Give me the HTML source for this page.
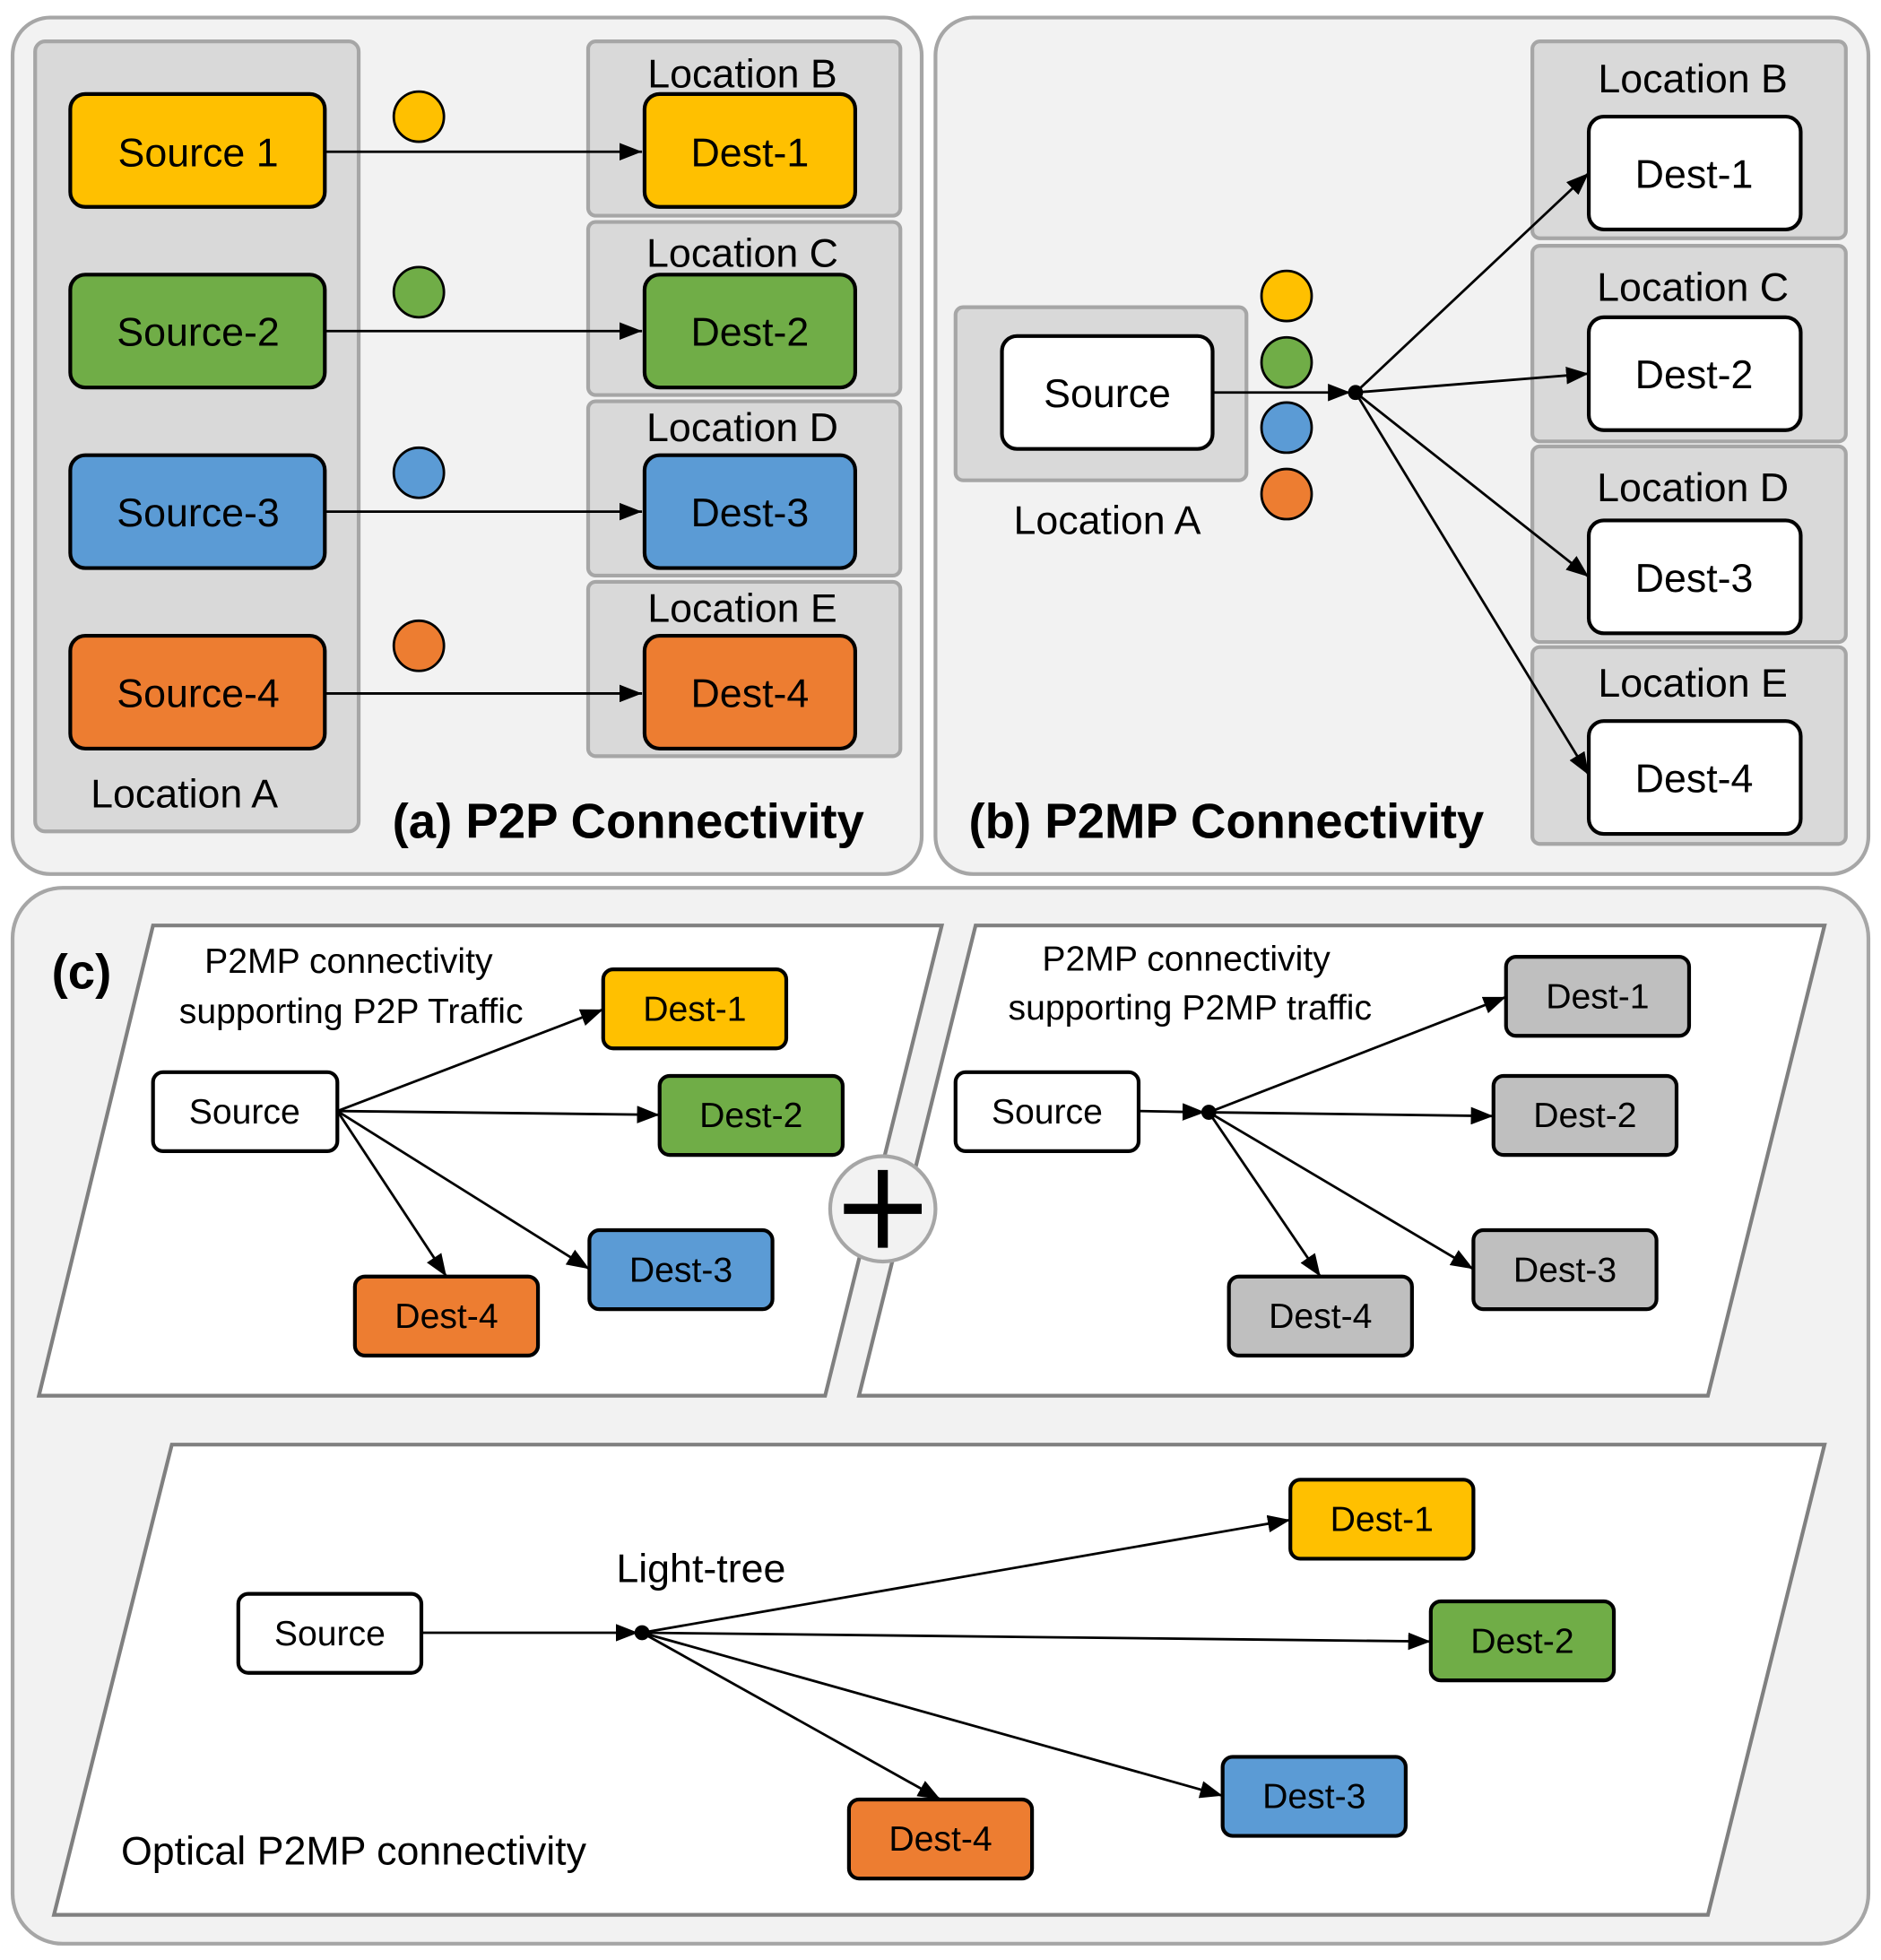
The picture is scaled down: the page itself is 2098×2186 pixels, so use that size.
<!DOCTYPE html>
<html><head><meta charset="utf-8"><style>
html,body{margin:0;padding:0;background:#fff}
svg{display:block}
text{font-family:"Liberation Sans",sans-serif;text-anchor:middle;dominant-baseline:central;fill:#000}
</style></head><body>
<svg width="2098" height="2186" viewBox="0 0 1500 1563" xmlns="http://www.w3.org/2000/svg">
<defs>
<marker id="ar" markerWidth="10" markerHeight="8" refX="10" refY="4" orient="auto" markerUnits="userSpaceOnUse" viewBox="0 0 10 8">
<path d="M0,0 L10,4 L0,8 z" fill="#000"/></marker>
<marker id="arb" markerWidth="18" markerHeight="14" refX="18" refY="7" orient="auto" markerUnits="userSpaceOnUse" viewBox="0 0 18 14">
<path d="M0,0 L18,7 L0,14 z" fill="#000"/></marker>
</defs>
<g stroke-width="2" stroke="#000" fill="none">
<!-- Panel a -->
<rect x="10" y="14" width="725" height="683" rx="30" fill="#f2f2f2" stroke="#a6a6a6" stroke-width="3"/>
<rect x="28" y="33" width="258" height="630" rx="8" fill="#d9d9d9" stroke="#a6a6a6" stroke-width="3"/>
<rect x="469" y="33" width="249" height="139" rx="6" fill="#d9d9d9" stroke="#a6a6a6" stroke-width="3"/>
<rect x="469" y="177" width="249" height="138" rx="6" fill="#d9d9d9" stroke="#a6a6a6" stroke-width="3"/>
<rect x="469" y="320" width="249" height="139" rx="6" fill="#d9d9d9" stroke="#a6a6a6" stroke-width="3"/>
<rect x="469" y="464" width="249" height="139" rx="6" fill="#d9d9d9" stroke="#a6a6a6" stroke-width="3"/>
<g stroke-width="3">
<rect x="56" y="75" width="203" height="90" rx="12" fill="#ffc000"/>
<rect x="56" y="219" width="203" height="90" rx="12" fill="#70ad47"/>
<rect x="56" y="363" width="203" height="90" rx="12" fill="#5b9bd5"/>
<rect x="56" y="507" width="203" height="90" rx="12" fill="#ed7d31"/>
<rect x="514" y="75" width="168" height="90" rx="12" fill="#ffc000"/>
<rect x="514" y="219" width="168" height="90" rx="12" fill="#70ad47"/>
<rect x="514" y="363" width="168" height="90" rx="12" fill="#5b9bd5"/>
<rect x="514" y="507" width="168" height="90" rx="12" fill="#ed7d31"/>
</g>
<circle cx="334" cy="93" r="20" fill="#ffc000"/>
<circle cx="334" cy="233" r="20" fill="#70ad47"/>
<circle cx="334" cy="377" r="20" fill="#5b9bd5"/>
<circle cx="334" cy="515" r="20" fill="#ed7d31"/>
<line x1="259" y1="121" x2="512" y2="121" marker-end="url(#arb)"/>
<line x1="259" y1="264" x2="512" y2="264" marker-end="url(#arb)"/>
<line x1="259" y1="408" x2="512" y2="408" marker-end="url(#arb)"/>
<line x1="259" y1="553" x2="512" y2="553" marker-end="url(#arb)"/>

<!-- Panel b -->
<rect x="746" y="14" width="744" height="683" rx="30" fill="#f2f2f2" stroke="#a6a6a6" stroke-width="3"/>
<rect x="762" y="245" width="232" height="138" rx="6" fill="#d9d9d9" stroke="#a6a6a6" stroke-width="3"/>
<rect x="1222" y="33" width="250" height="157" rx="6" fill="#d9d9d9" stroke="#a6a6a6" stroke-width="3"/>
<rect x="1222" y="196" width="250" height="156" rx="6" fill="#d9d9d9" stroke="#a6a6a6" stroke-width="3"/>
<rect x="1222" y="356" width="250" height="156" rx="6" fill="#d9d9d9" stroke="#a6a6a6" stroke-width="3"/>
<rect x="1222" y="516" width="250" height="157" rx="6" fill="#d9d9d9" stroke="#a6a6a6" stroke-width="3"/>
<g stroke-width="3" fill="#fff">
<rect x="799" y="268" width="168" height="90" rx="12"/>
<rect x="1267" y="93" width="169" height="90" rx="12"/>
<rect x="1267" y="253" width="169" height="90" rx="12"/>
<rect x="1267" y="415" width="169" height="90" rx="12"/>
<rect x="1267" y="575" width="169" height="90" rx="12"/>
</g>
<circle cx="1026" cy="236" r="20" fill="#ffc000"/>
<circle cx="1026" cy="289" r="20" fill="#70ad47"/>
<circle cx="1026" cy="341" r="20" fill="#5b9bd5"/>
<circle cx="1026" cy="394" r="20" fill="#ed7d31"/>
<line x1="967" y1="313" x2="1077" y2="313" marker-end="url(#arb)"/>
<circle cx="1081" cy="313" r="5" fill="#000"/>
<line x1="1081" y1="313" x2="1267" y2="138" marker-end="url(#arb)"/>
<line x1="1081" y1="313" x2="1267" y2="298" marker-end="url(#arb)"/>
<line x1="1081" y1="313" x2="1267" y2="460" marker-end="url(#arb)"/>
<line x1="1081" y1="313" x2="1267" y2="618" marker-end="url(#arb)"/>

<!-- Panel c -->
<rect x="10" y="708" width="1480" height="842" rx="40" fill="#f2f2f2" stroke="#a6a6a6" stroke-width="3"/>
<polygon points="122,738 751,738 658,1113 31,1113" fill="#fff" stroke="#808080" stroke-width="3"/>
<polygon points="778,738 1455,738 1362,1113 685,1113" fill="#fff" stroke="#808080" stroke-width="3"/>
<polygon points="137,1152 1455,1152 1362,1527 43,1527" fill="#fff" stroke="#808080" stroke-width="3"/>
<circle cx="704" cy="964" r="42" fill="#f2f2f2" stroke="#a6a6a6" stroke-width="3"/>
<line x1="673" y1="964" x2="735" y2="964" stroke-width="8"/>
<line x1="704" y1="933" x2="704" y2="995" stroke-width="8"/>
<g stroke-width="3">
<rect x="122" y="855" width="147" height="63" rx="8" fill="#fff"/>
<rect x="481" y="773" width="146" height="63" rx="8" fill="#ffc000"/>
<rect x="526" y="858" width="146" height="63" rx="8" fill="#70ad47"/>
<rect x="470" y="981" width="146" height="63" rx="8" fill="#5b9bd5"/>
<rect x="283" y="1018" width="146" height="63" rx="8" fill="#ed7d31"/>
<rect x="762" y="855" width="146" height="63" rx="8" fill="#fff"/>
<rect x="1201" y="763" width="146" height="63" rx="8" fill="#bfbfbf"/>
<rect x="1191" y="858" width="146" height="63" rx="8" fill="#bfbfbf"/>
<rect x="1175" y="981" width="146" height="63" rx="8" fill="#bfbfbf"/>
<rect x="980" y="1018" width="146" height="63" rx="8" fill="#bfbfbf"/>
<rect x="190" y="1271" width="146" height="63" rx="8" fill="#fff"/>
<rect x="1029" y="1180" width="146" height="63" rx="8" fill="#ffc000"/>
<rect x="1141" y="1277" width="146" height="63" rx="8" fill="#70ad47"/>
<rect x="975" y="1401" width="146" height="63" rx="8" fill="#5b9bd5"/>
<rect x="677" y="1435" width="146" height="63" rx="8" fill="#ed7d31"/>
</g>
<line x1="269" y1="886" x2="481" y2="805" marker-end="url(#arb)"/>
<line x1="269" y1="886" x2="526" y2="889" marker-end="url(#arb)"/>
<line x1="269" y1="886" x2="470" y2="1012" marker-end="url(#arb)"/>
<line x1="269" y1="886" x2="356" y2="1018" marker-end="url(#arb)"/>
<line x1="908" y1="886" x2="961" y2="887" marker-end="url(#arb)"/>
<circle cx="964" cy="887" r="5" fill="#000"/>
<line x1="964" y1="887" x2="1201" y2="795" marker-end="url(#arb)"/>
<line x1="964" y1="887" x2="1191" y2="890" marker-end="url(#arb)"/>
<line x1="964" y1="887" x2="1175" y2="1012" marker-end="url(#arb)"/>
<line x1="964" y1="887" x2="1053" y2="1018" marker-end="url(#arb)"/>
<line x1="336" y1="1302" x2="509" y2="1302" marker-end="url(#arb)"/>
<circle cx="512" cy="1302" r="5" fill="#000"/>
<line x1="512" y1="1302" x2="1029" y2="1212" marker-end="url(#arb)"/>
<line x1="512" y1="1302" x2="1141" y2="1309" marker-end="url(#arb)"/>
<line x1="512" y1="1302" x2="975" y2="1432" marker-end="url(#arb)"/>
<line x1="512" y1="1302" x2="750" y2="1435" marker-end="url(#arb)"/>
</g>

<g font-size="32">
<text x="158" y="122">Source 1</text>
<text x="158" y="265">Source-2</text>
<text x="158" y="409">Source-3</text>
<text x="158" y="553">Source-4</text>
<text x="598" y="122">Dest-1</text>
<text x="598" y="265">Dest-2</text>
<text x="598" y="409">Dest-3</text>
<text x="598" y="553">Dest-4</text>
<text x="592" y="59">Location B</text>
<text x="592" y="202">Location C</text>
<text x="592" y="341">Location D</text>
<text x="592" y="485">Location E</text>
<text x="147" y="633">Location A</text>
<text x="883" y="314">Source</text>
<text x="883" y="415">Location A</text>
<text x="1351" y="139">Dest-1</text>
<text x="1351" y="299">Dest-2</text>
<text x="1351" y="461">Dest-3</text>
<text x="1351" y="621">Dest-4</text>
<text x="1350" y="63">Location B</text>
<text x="1350" y="229">Location C</text>
<text x="1350" y="389">Location D</text>
<text x="1350" y="545">Location E</text>
<text x="559" y="1251">Light-tree</text>
<text x="282" y="1476">Optical P2MP connectivity</text>
</g>
<g font-size="39" font-weight="bold">
<text x="501" y="655">(a) P2P Connectivity</text>
<text x="978" y="655">(b) P2MP Connectivity</text>
<text x="65" y="775">(c)</text>
</g>
<g font-size="28">
<text x="278" y="767">P2MP connectivity</text>
<text x="280" y="807">supporting P2P Traffic</text>
<text x="946" y="765">P2MP connectivity</text>
<text x="949" y="804">supporting P2MP traffic</text>
<text x="195" y="887">Source</text>
<text x="554" y="805">Dest-1</text>
<text x="599" y="890">Dest-2</text>
<text x="543" y="1013">Dest-3</text>
<text x="356" y="1050">Dest-4</text>
<text x="835" y="887">Source</text>
<text x="1274" y="795">Dest-1</text>
<text x="1264" y="890">Dest-2</text>
<text x="1248" y="1013">Dest-3</text>
<text x="1053" y="1050">Dest-4</text>
<text x="263" y="1303">Source</text>
<text x="1102" y="1212">Dest-1</text>
<text x="1214" y="1309">Dest-2</text>
<text x="1048" y="1433">Dest-3</text>
<text x="750" y="1467">Dest-4</text>
</g>
</svg>
</body></html>
